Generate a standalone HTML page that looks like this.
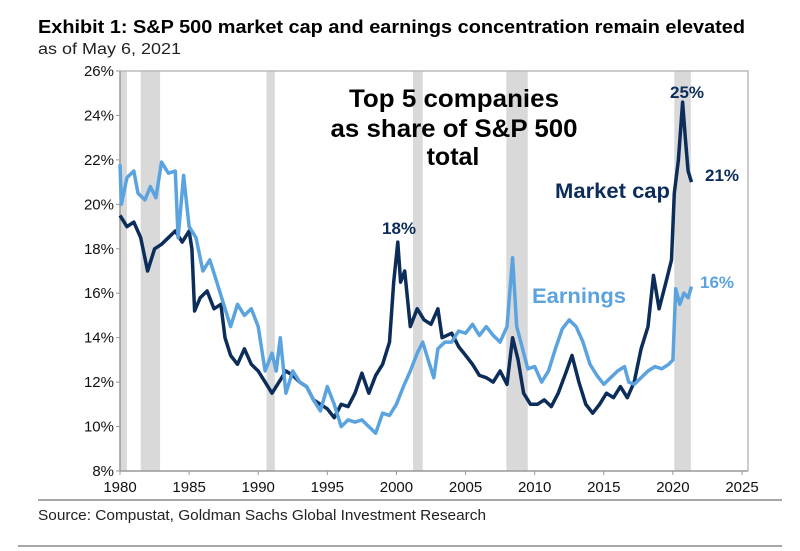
<!DOCTYPE html>
<html><head><meta charset="utf-8"><style>
body{margin:0;background:#fff;font-family:"Liberation Sans",Arial,sans-serif;}
#wrap{position:relative;width:800px;height:551px;overflow:hidden;}
</style></head><body>
<div id="wrap">
<svg id="chart" width="800" height="551" xmlns="http://www.w3.org/2000/svg">
<text x="38" y="33" font-size="18" font-weight="bold" fill="#000" textLength="707" lengthAdjust="spacingAndGlyphs">Exhibit 1: S&amp;P 500 market cap and earnings concentration remain elevated</text>
<text x="38" y="54" font-size="15.5" fill="#222" textLength="143" lengthAdjust="spacingAndGlyphs">as of May 6, 2021</text>
<g id="bands"></g>
<g id="grid"></g>
<g id="series"></g>
<text x="454" y="107" font-size="25" font-weight="bold" text-anchor="middle" textLength="210" lengthAdjust="spacingAndGlyphs">Top 5 companies</text>
<text x="454" y="137" font-size="25" font-weight="bold" text-anchor="middle" textLength="247" lengthAdjust="spacingAndGlyphs">as share of S&amp;P 500</text>
<text x="453" y="165" font-size="25" font-weight="bold" text-anchor="middle">total</text>
<text x="555" y="198" font-size="21" font-weight="bold" fill="#0c2d5a" textLength="115" lengthAdjust="spacingAndGlyphs">Market cap</text>
<text x="532" y="303" font-size="21" font-weight="bold" fill="#5ba3df" textLength="94" lengthAdjust="spacingAndGlyphs">Earnings</text>
<text x="382" y="234" font-size="17" font-weight="bold" fill="#0c2d5a">18%</text>
<text x="670" y="98" font-size="17" font-weight="bold" fill="#0c2d5a">25%</text>
<text x="705" y="181" font-size="17" font-weight="bold" fill="#0c2d5a">21%</text>
<text x="700" y="288" font-size="17" font-weight="bold" fill="#5ba3df">16%</text>
<line x1="38" y1="500" x2="782" y2="500" stroke="#888" stroke-width="1.5"/>
<text x="38" y="520" font-size="15" fill="#222" textLength="448" lengthAdjust="spacingAndGlyphs">Source: Compustat, Goldman Sachs Global Investment Research</text>
<line x1="18" y1="546" x2="782" y2="546" stroke="#888" stroke-width="1.5"/>
</svg>
</div>
<script>
const yTicks=[8,10,12,14,16,18,20,22,24,26];
const xTicks=[1980,1985,1990,1995,2000,2005,2010,2015,2020,2025];
const recessionStart=[1980.0,1981.5,1990.6,2001.2,2007.95,2020.1];
const recessionEnd=[1980.5,1982.9,1991.2,2001.9,2009.5,2021.3];
const mcapYears=[1980,1980.5,1981,1981.5,1982,1982.5,1983,1983.5,1984,1984.5,1985,1985.2,1985.4,1985.8,1986.3,1986.8,1987.3,1987.6,1988,1988.5,1989,1989.5,1990,1990.5,1991,1991.5,1992,1992.5,1993,1993.5,1994,1994.5,1995,1995.5,1996,1996.5,1997,1997.5,1998,1998.5,1999,1999.5,1999.8,2000.1,2000.3,2000.6,2001,2001.5,2002,2002.5,2003,2003.3,2004,2004.5,2005,2005.5,2006,2006.5,2007,2007.5,2008,2008.4,2008.8,2009.2,2009.7,2010.2,2010.7,2011.2,2011.7,2012.3,2012.7,2013.2,2013.7,2014.2,2014.7,2015.2,2015.7,2016.2,2016.7,2017.2,2017.7,2018.2,2018.6,2019,2019.5,2019.9,2020.1,2020.4,2020.7,2020.9,2021.1,2021.35];
const mcapValues=[19.5,19.0,19.2,18.5,17.0,18.0,18.2,18.5,18.8,18.3,18.8,18.0,15.2,15.8,16.1,15.3,15.5,14.0,13.2,12.8,13.5,12.8,12.5,12.0,11.5,12.0,12.5,12.3,12.0,11.8,11.2,11.0,10.8,10.4,11.0,10.9,11.5,12.4,11.5,12.3,12.8,13.8,16.5,18.3,16.5,17.0,14.5,15.3,14.8,14.6,15.3,14.0,14.2,13.6,13.2,12.8,12.3,12.2,12.0,12.5,11.9,14.0,13.0,11.5,11.0,11.0,11.2,10.9,11.5,12.5,13.2,12.0,11.0,10.6,11.0,11.5,11.3,11.8,11.3,12.0,13.5,14.5,16.8,15.3,16.5,17.5,20.5,22.0,24.6,23.0,21.5,21.0];
const earnYears=[1980,1980.1,1980.5,1981,1981.3,1981.8,1982.2,1982.6,1983,1983.5,1984,1984.2,1984.6,1985,1985.5,1986,1986.5,1987,1987.5,1988,1988.5,1989,1989.5,1990,1990.5,1991,1991.3,1991.6,1992,1992.5,1993,1993.5,1994,1994.5,1995,1995.5,1996,1996.5,1997,1997.5,1998,1998.5,1999,1999.5,2000,2000.5,2001,2001.5,2001.9,2002.3,2002.7,2003,2003.5,2004,2004.5,2005,2005.5,2006,2006.5,2007,2007.5,2008,2008.4,2008.7,2009,2009.5,2010,2010.5,2011,2011.5,2012,2012.5,2013,2013.5,2014,2014.5,2015,2015.5,2016,2016.5,2016.8,2017.2,2017.7,2018.2,2018.7,2019.2,2019.7,2020,2020.2,2020.5,2020.8,2021.1,2021.35];
const earnValues=[21.8,20.0,21.2,21.5,20.5,20.2,20.8,20.3,21.9,21.4,21.5,18.5,21.3,19.0,18.5,17.0,17.5,16.5,15.5,14.5,15.5,15.0,15.3,14.5,12.5,13.3,12.5,14.0,11.5,12.5,12.0,11.8,11.2,10.7,11.8,11.0,10.0,10.3,10.2,10.3,10.0,9.7,10.6,10.5,11.0,11.8,12.5,13.3,13.8,13.0,12.2,13.5,13.8,13.8,14.3,14.2,14.6,14.1,14.5,14.1,13.8,14.5,17.6,14.5,13.8,12.6,12.7,12.0,12.5,13.5,14.4,14.8,14.5,13.8,12.8,12.3,11.9,12.2,12.5,12.7,12.0,11.9,12.2,12.5,12.7,12.6,12.8,13.0,16.2,15.5,16.0,15.8,16.3];

const L=120,R=742,FR=748,T=71,B=471;
const xs=v=>L+(v-1980)/45*(R-L);
const ys=v=>B-(v-8)/18*(B-T);
const NS="http://www.w3.org/2000/svg";
function mk(tag,attrs,parent){const e=document.createElementNS(NS,tag);for(const k in attrs)e.setAttribute(k,attrs[k]);parent.appendChild(e);return e;}
const bands=document.getElementById('bands'),grid=document.getElementById('grid'),series=document.getElementById('series');
recessionStart.forEach((s,i)=>{
  const r=mk('rect',{x:xs(s),y:T,width:xs(recessionEnd[i])-xs(s),height:B-T,fill:'#d9d9d9'},bands);
  
  
});
const fr=mk('path',{d:`M${L},${T}H${FR}V${B}`,fill:'none',stroke:'#bbb','stroke-width':1.5},grid);


const ya=mk('line',{x1:L,y1:T,x2:L,y2:B,stroke:'#999','stroke-width':1.5},grid);


const xa=mk('line',{x1:L,y1:B,x2:FR,y2:B,stroke:'#999','stroke-width':1.5},grid);


yTicks.forEach(v=>{
  const t=mk('line',{x1:L-4,y1:ys(v),x2:L,y2:ys(v),stroke:'#999'},grid);
  
  
  const tx=mk('text',{x:L-6,y:ys(v)+5,'font-size':15,'text-anchor':'end',fill:'#111'},grid);
  tx.textContent=v+'%';
  
  
});
xTicks.forEach(v=>{
  const t=mk('line',{x1:xs(v),y1:B,x2:xs(v),y2:B+4,stroke:'#999'},grid);
  
  
  const tx=mk('text',{x:xs(v),y:B+21,'font-size':15,'text-anchor':'middle',fill:'#111'},grid);
  tx.textContent=v;
  
  
});
function line(xv,yv,color,name){
  const d=xv.map((x,i)=>(i?'L':'M')+xs(x).toFixed(1)+','+ys(yv[i]).toFixed(1)).join('');
  const p=mk('path',{d:d,fill:'none',stroke:color,'stroke-width':3.5,'stroke-linejoin':'round'},series);
  
  
}
line(mcapYears,mcapValues,'#0c2d5a','market-cap-line');
line(earnYears,earnValues,'#5ba3df','earnings-line');
</script>
</body></html>
